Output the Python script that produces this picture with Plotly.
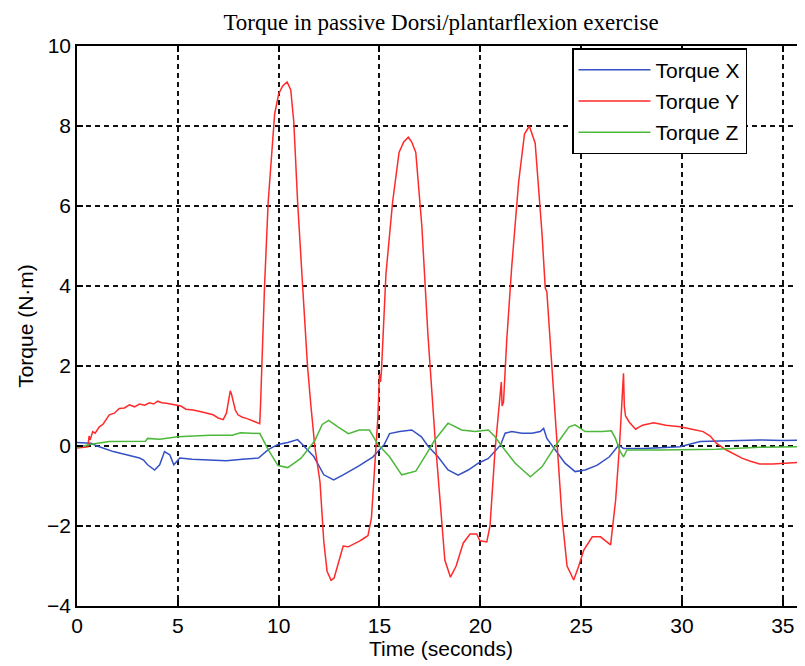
import plotly.graph_objects as go

# ---------------- data ----------------
time_x = [0, 0.7, 1.0, 1.3, 1.8, 2.45, 3.1, 3.3, 3.5, 3.85,
          4.1, 4.34, 4.6, 4.8, 5.1, 5.7, 6.55, 7.4, 8.2, 9.0,
          9.48, 9.97, 10.45, 10.94, 11.18, 11.75, 12.24, 12.73, 13.2, 14.0,
          14.68, 15.0, 15.24, 15.5, 16.0, 16.6, 17.08, 17.4, 17.9, 18.4,
          18.9, 19.4, 19.9, 20.4, 21.0, 21.23, 21.56, 22.06, 22.56, 22.97,
          23.14, 23.3, 23.72, 24.2, 24.7, 25.2, 25.8, 26.4, 26.86, 27.1,
          28.1, 29.9, 30.9, 32.5, 33.85, 35.0, 36.1]
torque_x = [0.09, 0.07, 0.0, -0.05, -0.14, -0.22, -0.3, -0.35, -0.47, -0.6,
            -0.47, -0.14, -0.22, -0.47, -0.3, -0.33, -0.35, -0.37, -0.33, -0.3,
            -0.09, 0.04, 0.09, 0.16, 0.04, -0.27, -0.72, -0.85, -0.72, -0.49,
            -0.27, -0.09, 0.04, 0.31, 0.36, 0.4, 0.23, 0.0, -0.27, -0.6,
            -0.73, -0.6, -0.43, -0.31, 0.02, 0.32, 0.36, 0.32, 0.32, 0.36,
            0.44, 0.19, -0.1, -0.43, -0.64, -0.6, -0.48, -0.27, 0.02, -0.06,
            -0.06, -0.02, 0.11, 0.13, 0.15, 0.14, 0.15]

time_y = [0, 0.3, 0.54, 0.6, 0.65, 0.78, 0.9, 1.11, 1.3, 1.6,
          1.85, 2.1, 2.35, 2.6, 2.85, 3.1, 3.35, 3.6, 3.8, 4.0,
          4.2, 4.43, 4.7, 4.92, 5.15, 5.4, 5.75, 6.1, 6.4, 6.75,
          7.0, 7.25, 7.41, 7.52, 7.6, 7.66, 7.73, 7.85, 7.98, 8.2,
          8.4, 8.7, 9.06, 9.1, 9.16, 9.3, 9.48, 9.65, 9.8, 10.0,
          10.2, 10.42, 10.6, 10.75, 10.94, 11.2, 11.43, 11.6, 11.79, 12.05,
          12.24, 12.4, 12.6, 12.75, 12.9, 13.05, 13.2, 13.45, 13.7, 14.03,
          14.25, 14.43, 14.6, 14.76, 14.92, 15.0, 15.05, 15.1, 15.32, 15.65,
          15.97, 16.2, 16.43, 16.6, 16.8, 17.1, 17.4, 17.74, 17.99, 18.24,
          18.52, 18.8, 19.15, 19.49, 19.82, 19.98, 20.32, 20.48, 20.73, 20.98,
          21.04, 21.08, 21.15, 21.31, 21.56, 21.9, 22.19, 22.43, 22.72, 23.06,
          23.22, 23.3, 23.55, 23.8, 24.05, 24.3, 24.63, 24.88, 25.13, 25.55,
          25.96, 26.46, 26.71, 26.9, 27.04, 27.1, 27.14, 27.2, 27.38, 27.7,
          28.04, 28.6, 29.2, 29.9, 30.5, 31.05, 31.4, 31.7, 32.2, 32.6,
          33.0, 33.4, 33.85, 34.5, 35.2, 36.1]
torque_y = [-0.05, -0.04, -0.02, 0.25, 0.15, 0.36, 0.32, 0.48, 0.55, 0.78,
            0.82, 0.94, 0.95, 1.03, 0.98, 1.05, 1.02, 1.08, 1.05, 1.12,
            1.08, 1.07, 1.05, 1.03, 1.0, 0.92, 0.9, 0.86, 0.82, 0.78,
            0.7, 0.66, 0.82, 1.2, 1.38, 1.3, 1.15, 0.9, 0.78, 0.72,
            0.69, 0.63, 0.56, 1.0, 2.0, 4.0, 6.1, 7.3, 8.3, 8.8,
            9.0, 9.1, 8.9, 8.1, 6.1, 3.9, 2.0, 1.0, 0.0, -0.9,
            -2.4, -3.13, -3.36, -3.3, -3.04, -2.75, -2.5, -2.52, -2.46, -2.37,
            -2.3, -2.24, -1.8, -0.63, 0.72, 1.8, 1.6, 1.9, 4.3, 6.1,
            7.34, 7.6, 7.72, 7.6, 7.34, 5.5, 2.8, 0.3, -1.35, -2.85,
            -3.28, -3.0, -2.43, -2.2, -2.2, -2.37, -2.4, -2.0, -0.1, 1.3,
            1.6, 1.0, 1.1, 2.65, 4.5, 6.6, 7.8, 8.0, 7.57, 5.3,
            3.95, 3.85, 2.0, 0.0, -1.77, -3.0, -3.35, -3.0, -2.6, -2.27,
            -2.27, -2.47, -1.35, 0.0, 1.15, 1.82, 1.0, 0.75, 0.6, 0.42,
            0.52, 0.58, 0.52, 0.48, 0.42, 0.36, 0.25, 0.07, -0.1, -0.2,
            -0.31, -0.38, -0.45, -0.45, -0.43, -0.4]

time_z = [0, 0.78, 1.6, 2.4, 3.4, 3.5, 4.1, 5.0, 6.6, 7.7,
          8.1, 9.07, 9.35, 9.48, 9.97, 10.45, 11.1, 11.79, 12.16, 12.48,
          12.9, 13.46, 14.0, 14.5, 14.92, 15.5, 16.1, 16.8, 17.24, 17.74,
          18.4, 19.07, 19.73, 20.4, 20.73, 21.06, 21.73, 22.48, 23.06, 23.72,
          24.4, 24.7, 25.2, 26.05, 26.5, 26.7, 26.94, 27.1, 27.27, 28.9,
          31.7, 33.85, 36.1]
torque_z = [-0.03, 0.05, 0.11, 0.12, 0.12, 0.19, 0.17, 0.23, 0.27, 0.27,
            0.33, 0.31, 0.02, -0.09, -0.49, -0.54, -0.31, 0.13, 0.54, 0.64,
            0.49, 0.31, 0.4, 0.4, 0.04, -0.27, -0.72, -0.63, -0.27, 0.15,
            0.57, 0.4, 0.36, 0.4, 0.23, 0.0, -0.43, -0.77, -0.52, 0.0,
            0.48, 0.53, 0.36, 0.36, 0.38, 0.19, -0.14, -0.27, -0.1, -0.1,
            -0.08, -0.03, -0.02]

series_names = ["Torque X", "Torque Y", "Torque Z"]
series_colors = ["#3450c4", "#ff2a2a", "#4cb83a"]
x_ticks = [0, 5, 10, 15, 20, 25, 30, 35]
y_ticks = [-4, -2, 0, 2, 4, 6, 8, 10]

# ---------------- figure ----------------
fig = go.Figure()
for name, tt, vv, col in zip(series_names, [time_x, time_y, time_z],
                             [torque_x, torque_y, torque_z], series_colors):
    fig.add_trace(go.Scatter(x=tt, y=vv, mode="lines", name=name,
                             legendgroup=name,
                             line=dict(color=col, width=1.5)))

sans = "Liberation Sans Narrow, Arial Narrow, Liberation Sans, Arial"
tick_font = dict(family=sans, size=21, color="black")

# the page body adds an 8px margin, so the figure is 8px smaller
fig.update_layout(
    width=797, height=658,
    margin=dict(l=69, r=0, t=38, b=60),
    paper_bgcolor="white", plot_bgcolor="white",
    title=dict(text="Torque in passive Dorsi/plantarflexion exercise",
               font=dict(family="Liberation Serif, Times New Roman, serif",
                         size=23, color="black"),
               x=0.5, xref="paper", xanchor="center",
               y=1 - 14 / 658, yref="container", yanchor="middle"),
    showlegend=True,
    legend=dict(x=(572 - 77) / 728, y=1 - 2 / 560, xanchor="left", yanchor="top",
                bgcolor="white", bordercolor="black", borderwidth=1.5,
                font=dict(family=sans, size=21, color="black"),
                itemwidth=72, tracegroupgap=1),
    xaxis=dict(range=[0, 36.1], tickvals=x_ticks, showgrid=True,
               gridcolor="#111111", griddash="5px,4px", gridwidth=1.5,
               showline=True, linecolor="black", linewidth=1.5, mirror="ticks",
               ticks="inside", ticklen=6, tickcolor="black", tickwidth=1.5,
               zeroline=False, tickfont=tick_font,
               title=dict(text="Time (seconds)", font=tick_font, standoff=4)),
    yaxis=dict(range=[-4, 10], tickvals=y_ticks, showgrid=True,
               gridcolor="#111111", griddash="5px,4px", gridwidth=1.5,
               showline=True, linecolor="black", linewidth=1.5, mirror=False,
               ticks="inside", ticklen=6, tickcolor="black", tickwidth=1.5,
               zeroline=False, tickfont=tick_font,
               title=dict(text="Torque (N·m)", font=tick_font, standoff=8)),
)

fig.write_html("out.html")
